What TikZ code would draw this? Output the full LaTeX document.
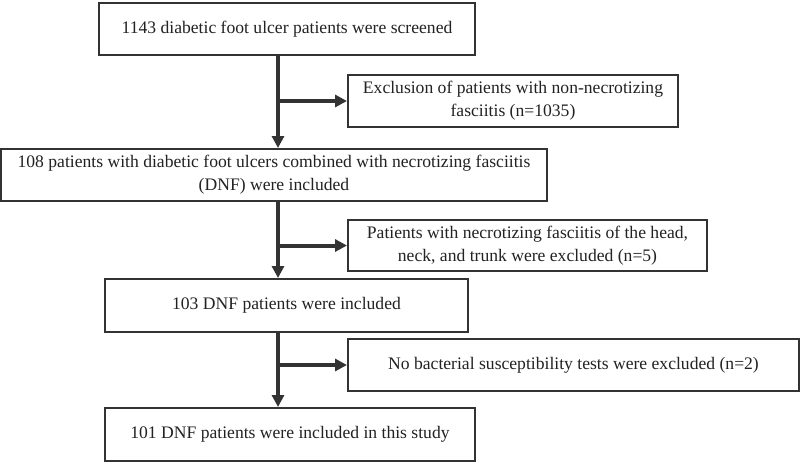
\documentclass[tikz,border=0pt]{standalone}
\usepackage{fontspec}
\setmainfont{Liberation Serif}
\usepackage{tikz}
\usetikzlibrary{arrows.meta}

\definecolor{boxgray}{HTML}{333333}
\definecolor{txtgray}{HTML}{222222}

\tikzset{
    flowbox/.style={draw=boxgray, line width=1.5pt, fill=white, align=center, text=txtgray,
        inner sep=0pt, font=\fontsize{13.2}{17}\selectfont},
    flowarr/.style={draw=boxgray, line width=3pt, -{Triangle[length=9pt,width=9pt]}}
}

\begin{document}
\begin{tikzpicture}[x=0.75pt,y=-0.75pt]
            \useasboundingbox (0,0) rectangle (800,462);
            \node[flowbox, minimum width=376*0.75pt, minimum height=52*0.75pt] (screen) at (287,29)
                {1143 diabetic foot ulcer patients were screened};
            \node[flowbox, minimum width=330*0.75pt, minimum height=52*0.75pt] (excl1) at (513,101)
                {Exclusion of patients with non-necrotizing\\fasciitis (n=1035)};
            \node[flowbox, minimum width=546*0.75pt, minimum height=52*0.75pt] (dnf108) at (274,175)
                {108 patients with diabetic foot ulcers combined with necrotizing fasciitis\\(DNF) were included};
            \node[flowbox, minimum width=359*0.75pt, minimum height=51*0.75pt] (excl2) at (527.5,245.5)
                {Patients with necrotizing fasciitis of the head,\\neck, and trunk were excluded (n=5)};
            \node[flowbox, minimum width=363*0.75pt, minimum height=53*0.75pt] (dnf103) at (286.5,305.5)
                {103 DNF patients were included};
            \node[flowbox, minimum width=451*0.75pt, minimum height=52*0.75pt] (excl3) at (573.5,365)
                {No bacterial susceptibility tests were excluded (n=2)};
            \node[flowbox, minimum width=370*0.75pt, minimum height=53*0.75pt] (dnf101) at (290,434.5)
                {101 DNF patients were included in this study};

            \coordinate (trunk) at (278,0);
            \draw[flowarr] (screen.south -| trunk) -- (dnf108.north -| trunk);
            \draw[flowarr] (excl1.west -| trunk) -- (excl1.west);
            \draw[flowarr] (dnf108.south -| trunk) -- (dnf103.north -| trunk);
            \draw[flowarr] (excl2.west -| trunk) -- (excl2.west);
            \draw[flowarr] (dnf103.south -| trunk) -- (dnf101.north -| trunk);
            \draw[flowarr] (excl3.west -| trunk) -- (excl3.west);
        \end{tikzpicture}
\end{document}
